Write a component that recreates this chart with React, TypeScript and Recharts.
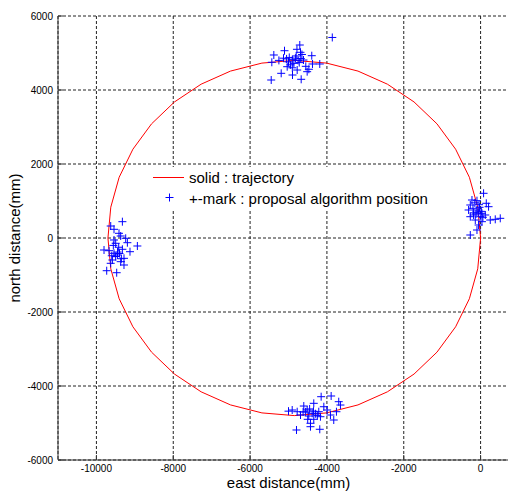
import React from 'react';
import { ScatterChart, Scatter, XAxis, YAxis, CartesianGrid, Label } from 'recharts';

const xTicks = [-10000, -8000, -6000, -4000, -2000, 0];
const yTicks = [-6000, -4000, -2000, 0, 2000, 4000, 6000];

const trajectoryEast = [0, -74, -292, -650, -1135, -1732, -2425, -3191, -4008, -4850, -5692, -6509, -7275, -7968, -8565, -9050, -9408, -9626, -9700, -9626, -9408, -9050, -8565, -7968, -7275, -6509, -5692, -4850, -4008, -3191, -2425, -1732, -1135, -650, -292, -74, 0];
const trajectoryNorth = [0, 833, 1642, 2400, 3085, 3677, 4157, 4511, 4727, 4800, 4727, 4511, 4157, 3677, 3085, 2400, 1642, 833, 0, -833, -1642, -2400, -3085, -3677, -4157, -4511, -4727, -4800, -4727, -4511, -4157, -3677, -3085, -2400, -1642, -833, 0];

const topEast = [-3860, -4706, -5104, -5382, -5434, -4394, -4688, -5130, -5050, -4980, -4900, -4820, -4750, -4680, -4610, -5000, -4860, -4720, -4186, -4376, -4514, -4470, -5190, -5450, -4896, -4670, -5034, -4774, -4950, -4800, -4650, -4550, -5250, -4900, -4780];
const topNorth = [5420, 5216, 5062, 4946, 4749, 4927, 5019, 4860, 4840, 4880, 4820, 4860, 4800, 4850, 4810, 4760, 4720, 4740, 4703, 4703, 4495, 4560, 4451, 4270, 4405, 4289, 4630, 4540, 4680, 4920, 4960, 4640, 4800, 4600, 5100];

const rightEast = [78, -224, -94, 148, -268, -150, 208, -26, -94, -312, 36, -182, -268, 122, 252, 382, 512, 36, -52, -94, -268, -8, -138, -198, -60, 20, -120, 60, -40, -180];
const rightNorth = [1208, 1027, 1008, 938, 892, 950, 846, 830, 757, 757, 668, 622, 576, 622, 486, 505, 532, 441, 351, 216, 81, 576, 486, 803, 700, 720, 650, 560, 900, 680];

const leftEast = [-9324, -9628, -9542, -9412, -9368, -9238, -9542, -9194, -8934, -9802, -9672, -9324, -9126, -9542, -9454, -9282, -9584, -9368, -9282, -9732, -9472, -9498, -9420, -9628, -9500, -9400, -9600, -9350, -9450, -9560];
const leftNorth = [441, 324, 235, 127, 54, -8, -54, -127, -216, -324, -343, -305, -370, -414, -459, -549, -595, -640, -730, -884, -938, -143, -250, -684, -500, -420, -480, -560, -380, -200];

const bottomEast = [-4150, -3890, -3692, -3648, -4342, -4602, -4904, -5000, -4774, -4514, -4384, -4212, -3994, -3908, -4168, -4688, -4472, -4428, -4428, -4186, -4792, -3752, -3822, -4560, -4342, -4300, -4450, -4620, -4250, -4080, -4500, -4350];
const bottomNorth = [-4289, -4270, -4424, -4514, -4468, -4541, -4649, -4680, -4695, -4649, -4738, -4695, -4649, -4784, -4830, -4784, -4811, -5008, -5100, -5170, -5189, -4695, -4919, -4700, -4900, -4750, -4620, -4700, -4800, -4560, -4900, -4680];

const zip = (xs: number[], ys: number[]) => xs.map((x, i) => ({ x, y: ys[i] }));
const trajectoryData = zip(trajectoryEast, trajectoryNorth);
const positionData = [
  ...zip(topEast, topNorth),
  ...zip(rightEast, rightNorth),
  ...zip(leftEast, leftNorth),
  ...zip(bottomEast, bottomNorth),
];

const FONT = 'Arial, "Liberation Sans", sans-serif';
const AXIS = '#333';

const BottomTick = (props: any) => {
  const { x, y, payload } = props;
  return (
    <g>
      <line x1={x} x2={x} y1={y} y2={y - 5} stroke={AXIS} />
      <text x={x} y={y + 11.5} textAnchor="middle" fontSize={10} fontFamily={FONT} fill="#000">{payload.value}</text>
    </g>
  );
};

const TopTick = (props: any) => {
  const { x, y } = props;
  return <line x1={x} x2={x} y1={y} y2={y + 5} stroke={AXIS} />;
};

const LeftTick = (props: any) => {
  const { x, y, payload } = props;
  return (
    <g>
      <line x1={x} x2={x + 5} y1={y} y2={y} stroke={AXIS} />
      <text x={x - 5} y={y + 4} textAnchor="end" fontSize={10} fontFamily={FONT} fill="#000">{payload.value}</text>
    </g>
  );
};

const Plus = (props: any) => {
  const { cx, cy } = props;
  return (
    <g>
      <line x1={cx - 4} x2={cx + 4} y1={cy} y2={cy} stroke="#0000ff" strokeWidth={1} />
      <line x1={cx} x2={cx} y1={cy - 4} y2={cy + 4} stroke="#0000ff" strokeWidth={1} />
    </g>
  );
};

const Empty = () => <g />;

export default function App() {
  return (
    <div style={{ position: 'relative', width: 516, height: 491, margin: '-8px 0 0 -8px', overflow: 'hidden', background: '#fff' }}>
      <ScatterChart width={530} height={491} margin={{ top: 16, right: 11, bottom: 0, left: 8 }}>
        <CartesianGrid stroke="#222" strokeDasharray="3 2" />
        <XAxis
          dataKey="x"
          type="number"
          domain={[-11000, 1000]}
          ticks={xTicks}
          interval={0}
          height={31}
          tickSize={0}
          tickMargin={0}
          tickLine={false}
          axisLine={{ stroke: AXIS }}
          tick={<BottomTick />}
        >
          <Label
            content={() => (
              <text x={288.5} y={488} textAnchor="middle" fontSize={15} fontFamily={FONT} fill="#000">east distance(mm)</text>
            )}
          />
        </XAxis>
        <XAxis
          xAxisId="top"
          orientation="top"
          dataKey="x"
          type="number"
          domain={[-11000, 1000]}
          ticks={xTicks}
          interval={0}
          height={0}
          tickSize={0}
          tickMargin={0}
          tickLine={false}
          axisLine={{ stroke: AXIS }}
          tick={<TopTick />}
        />
        <YAxis
          dataKey="y"
          type="number"
          domain={[-6000, 6000]}
          ticks={yTicks}
          interval={0}
          width={50}
          tickSize={0}
          tickMargin={0}
          tickLine={false}
          axisLine={{ stroke: AXIS }}
          tick={<LeftTick />}
        >
          <Label
            content={() => (
              <text x={19.5} y={238} transform="rotate(-90, 19.5, 238)" textAnchor="middle" fontSize={15} fontFamily={FONT} fill="#000">north distance(mm)</text>
            )}
          />
        </YAxis>
        <Scatter
          data={trajectoryData}
          line={{ stroke: '#ff0000', strokeWidth: 1 }}
          lineType="joint"
          shape={<Empty />}
          isAnimationActive={false}
        />
        <Scatter data={positionData} shape={<Plus />} isAnimationActive={false} />
      </ScatterChart>
      <div style={{ position: 'absolute', left: 148, top: 167, width: 287, height: 44, background: '#fff' }}>
        <svg width={287} height={44} style={{ display: 'block' }}>
          <line x1={5} x2={36} y1={10.5} y2={10.5} stroke="#ff0000" strokeWidth={1} />
          <text x={41} y={16} fontSize={15} fontFamily={FONT} fill="#000">solid : trajectory</text>
          <line x1={17.5} x2={25.5} y1={30.5} y2={30.5} stroke="#0000ff" strokeWidth={1} />
          <line x1={21.5} x2={21.5} y1={26.5} y2={34.5} stroke="#0000ff" strokeWidth={1} />
          <text x={41} y={37} fontSize={15} fontFamily={FONT} fill="#000">+-mark : proposal algorithm position</text>
        </svg>
      </div>
    </div>
  );
}
